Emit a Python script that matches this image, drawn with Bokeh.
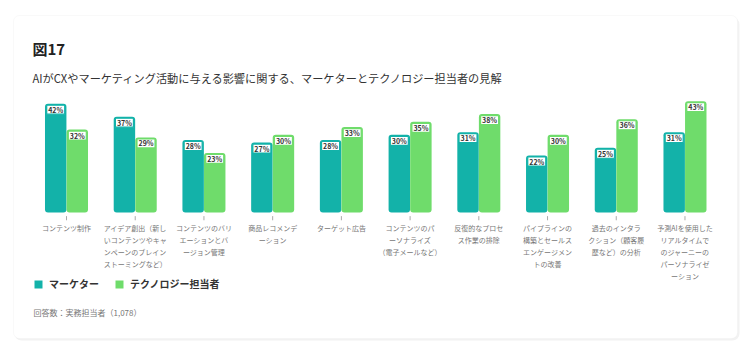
import numpy as np
from bokeh.plotting import figure
from bokeh.models import (ColumnDataSource, Range1d, Label, Legend,
                          LegendItem, BoxAnnotation)
from bokeh.core.properties import value
from bokeh.embed import file_html
from bokeh.resources import INLINE

categories = [
    "コンテンツ制作",
    "アイデア創出（新し\nいコンテンツやキャ\nンペーンのブレイン\nストーミングなど）",
    "コンテンツのバリ\nエーションとバ\nージョン管理",
    "商品レコメンデ\nーション",
    "ターゲット広告",
    "コンテンツのパ\nーソナライズ\n（電子メールなど）",
    "反復的なプロセ\nス作業の排除",
    "パイプラインの\n構築とセールス\nエンゲージメン\nトの改善",
    "過去のインタラ\nクション（顧客履\n歴など）の分析",
    "予測AIを使用した\nリアルタイムで\nのジャーニーの\nパーソナライゼ\nーション",
]
marketer = [42, 37, 28, 27, 28, 30, 31, 22, 25, 31]
technology = [32, 29, 23, 30, 33, 35, 38, 30, 36, 43]
series_names = ["マーケター", "テクノロジー担当者"]

title_text = "図17"
subtitle_text = "AIがCXやマーケティング活動に与える影響に関する、マーケターとテクノロジー担当者の見解"
note_text = "回答数：実務担当者（1,078）"

TEAL = "#13b2a9"
GREEN = "#6fdc6b"
FONT = "Noto Sans CJK JP"

W, H = 750, 353
PX_PER_GROUP = 68.72
PX_PER_PCT = 2.59
X0 = -66 / PX_PER_GROUP
X1 = X0 + W / PX_PER_GROUP
Y0 = -141 / PX_PER_PCT
Y1 = Y0 + H / PX_PER_PCT

def dx(px):
    return X0 + px / PX_PER_GROUP

def dy(px_from_top):
    return Y0 + (H - px_from_top) / PX_PER_PCT

p = figure(width=W, height=H, output_backend="svg", toolbar_location=None,
           x_range=Range1d(X0, X1), y_range=Range1d(Y0, Y1),
           min_border=0, min_border_left=0, min_border_right=0,
           min_border_top=0, min_border_bottom=0)
p.axis.visible = False
p.grid.visible = False
p.outline_line_color = None
p.background_fill_color = "white"
p.border_fill_color = "white"

# card
p.add_layout(BoxAnnotation(left=dx(14), right=dx(739), top=dy(17), bottom=dy(340),
                           fill_color="#f2f2f2", fill_alpha=1, line_color=None,
                           border_radius=7, level="underlay"))
p.add_layout(BoxAnnotation(left=dx(13), right=dx(737), top=dy(15), bottom=dy(338),
                           fill_color="white", fill_alpha=1, line_color="#ececec",
                           line_width=1, border_radius=6, level="underlay"))

idx = np.arange(len(categories))
half = 0.157
bw = 0.312
box_drop = 6.0 / PX_PER_PCT
src = ColumnDataSource(dict(
    xm=idx - half, xt=idx + half, x=idx,
    m=marketer, t=technology, cat=categories,
    mb=np.array(marketer) - box_drop, tb=np.array(technology) - box_drop,
    ml=[f"{v}%" for v in marketer], tl=[f"{v}%" for v in technology],
))

r1 = p.vbar(x="xm", top="m", bottom=0, width=bw, source=src, fill_color=TEAL,
            line_color=None, border_radius=3)
r2 = p.vbar(x="xt", top="t", bottom=0, width=bw, source=src, fill_color=GREEN,
            line_color=None, border_radius=3)

for xs, ys, ls, col in [("xm", "mb", "ml", TEAL), ("xt", "tb", "tl", GREEN)]:
    p.rect(x=xs, y=ys, width=18, height=9, width_units="screen", height_units="screen",
           source=src, fill_color="white", line_color=col, line_width=1.2)
    p.text(x=xs, y=ys, text=ls, source=src, text_align="center", text_baseline="middle",
           text_font=value(FONT), text_font_size="7px", text_font_style="bold",
           text_color="#333333")

# ticks
p.segment(x0="x", x1="x", y0=-1.4, y1=-3.0, source=src, line_color="#aaaaaa", line_width=1)

# category labels
p.text(x="x", y=-3.9, text="cat", source=src, text_align="center", text_baseline="top",
       text_font=value(FONT), text_font_size="7px", text_color="#777777",
       text_line_height=1.2)

# titles
p.add_layout(Label(x=32, y=H - 48, x_units="screen", y_units="screen", text=title_text,
                   text_font=FONT, text_font_size="15px", text_font_style="bold",
                   text_color="#222222", text_baseline="middle"))
p.add_layout(Label(x=32, y=H - 77, x_units="screen", y_units="screen", text=subtitle_text,
                   text_font=FONT, text_font_size="11.2px", text_color="#333333",
                   text_baseline="middle"))
p.add_layout(Label(x=33, y=H - 312, x_units="screen", y_units="screen", text=note_text,
                   text_font=FONT, text_font_size="8px", text_color="#777777",
                   text_baseline="middle"))

for name, rend, lx in [(series_names[0], r1, 33), (series_names[1], r2, 114)]:
    lg = Legend(items=[LegendItem(label=name, renderers=[rend])],
                orientation="horizontal", location=(lx, H - 291),
                glyph_width=10, glyph_height=10, label_standoff=6, spacing=0,
                padding=0, margin=0, border_line_color=None, background_fill_alpha=0,
                label_text_font=FONT, label_text_font_size="10px",
                label_text_font_style="bold", label_text_color="#333333",
                label_height=10)
    p.add_layout(lg, "center")

open("out.html", "w").write(file_html(p, INLINE))
